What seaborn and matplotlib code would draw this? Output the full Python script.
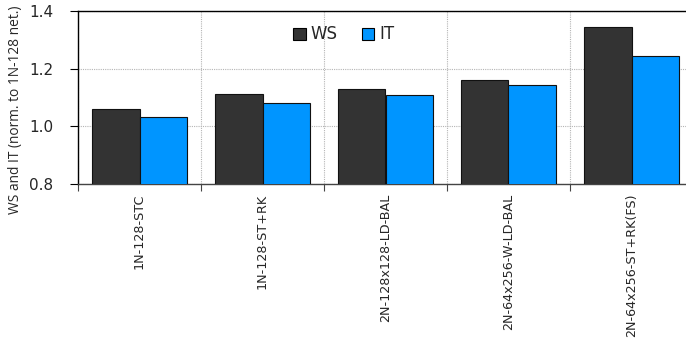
import matplotlib
matplotlib.use("Agg")
import matplotlib.pyplot as plt
import seaborn as sns
import pandas as pd
import numpy as np
from matplotlib.ticker import FixedLocator, NullFormatter

# Normalised working-set (WS) and iteration time (IT) per network configuration
configs = ["1N-128-STC", "1N-128-ST+RK", "2N-128x128-LD-BAL",
           "2N-64x256-W-LD-BAL", "2N-64x256-ST+RK(FS)"]
ws_values = [1.059, 1.112, 1.131, 1.161, 1.343]
it_values = [1.034, 1.082, 1.107, 1.142, 1.243]
series_names = ["WS", "IT"]
y_ticks = [0.8, 1.0, 1.2, 1.4]

df = pd.DataFrame({
    "config": configs * 2,
    "metric": [series_names[0]] * len(configs) + [series_names[1]] * len(configs),
    "value": ws_values + it_values,
})

sns.set_style("white")
plt.rcParams["font.family"] = ["DejaVu Sans"]

fig = plt.figure(figsize=(6.86, 3.41), dpi=100)
ax = fig.add_axes([78 / 686, 1 - 184 / 341, 615 / 686, 173 / 341])

palette = {"WS": "#333333", "IT": "#0095ff"}
sns.barplot(data=df, x="config", y="value", hue="metric", order=configs,
            hue_order=series_names, palette=palette, width=0.77,
            edgecolor="#111111", linewidth=0.8, saturation=1, ax=ax, zorder=3)

ax.set_ylim(0.8, 1.4)
ax.set_xlim(-0.5, len(configs) - 0.5)
ax.set_yticks(y_ticks)
ax.set_yticklabels([f"{v:.1f}" for v in y_ticks], fontsize=11)

# group boundaries carry the tick marks and grid; labels sit at group centres
bounds = np.arange(len(configs) + 1) - 0.5
ax.xaxis.set_major_locator(FixedLocator(bounds))
ax.xaxis.set_major_formatter(NullFormatter())
ax.xaxis.set_minor_locator(FixedLocator(np.arange(len(configs))))
ax.set_xticklabels(configs, minor=True, rotation=90, fontsize=9.2)
ax.tick_params(axis="x", which="major", direction="out", length=5, width=0.8,
               color="#444444", bottom=True)
ax.tick_params(axis="x", which="minor", length=0, pad=7)
ax.tick_params(axis="y", direction="out", length=6, width=0.8, color="black",
               left=True, pad=12)

ax.grid(True, which="major", axis="both", linestyle=(0, (1, 1)),
        color="#b5b5b5", linewidth=0.8, zorder=0)
ax.set_axisbelow(True)

for side in ["left", "top", "right"]:
    ax.spines[side].set_color("black")
    ax.spines[side].set_linewidth(1.0)
ax.spines["bottom"].set_color("#444444")
ax.spines["bottom"].set_linewidth(1.0)

ax.set_xlabel("")
ax.set_ylabel("WS and IT (norm. to 1N-128 net.)", fontsize=9.9,
              family=["Open Sans", "DejaVu Sans"])
ax.yaxis.set_label_coords((23 - 78) / 615, 0.428)

leg = ax.legend(loc="upper left", bbox_to_anchor=(0.339, 0.955), ncol=2,
                frameon=False, fontsize=12, handlelength=0.75, handleheight=0.75,
                handletextpad=0.3, columnspacing=1.45, borderaxespad=0)
for h in leg.legend_handles:
    h.set_edgecolor("black")
    h.set_linewidth(0.8)

fig.savefig("out.png", dpi=100)
